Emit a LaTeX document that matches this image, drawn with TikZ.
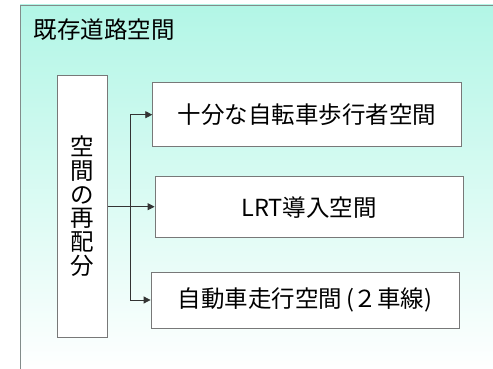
\documentclass[tikz,border=0pt]{standalone}
\usepackage{fontspec}
\setmainfont{Noto Sans CJK JP}
\usetikzlibrary{arrows.meta}
\definecolor{bgtop}{RGB}{178,246,230}
\definecolor{frame}{RGB}{130,140,138}
\definecolor{boxline}{RGB}{120,120,120}
\tikzset{
  box/.style={draw=boxline, line width=0.8pt, fill=white, inner sep=0pt},
  lbl/.style={font=\fontsize{23.5}{26}\selectfont, text=black},
  conn/.style={draw=black!80, line width=0.8pt},
  arr/.style={conn, -{Triangle[length=7pt,width=7pt]}}
}
\begin{document}
\begin{tikzpicture}[x=1pt,y=-1pt]
\useasboundingbox (0,0) rectangle (493,369);
\shade[top color=bgtop, bottom color=white] (20,5) rectangle (495,372);
\draw[frame, line width=0.8pt] (20,372) -- (20,5) -- (495,5);
\node[lbl, anchor=west] (title) at (30,30) {既存道路空間};
\node[box, minimum width=50pt, minimum height=262pt] (left) at (82.7,206) {};
\node[lbl, align=center, font=\fontsize{23.5}{23.7}\selectfont] (ltext) at (82.7,206) {空\\間\\の\\再\\配\\分};
\node[box, minimum width=309pt, minimum height=64pt, lbl] (b1) at (307.2,114.7) {十分な自転車歩行者空間};
\node[box, minimum width=308pt, minimum height=61pt, lbl] (b2) at (309,207.2) {LRT導入空間};
\node[box, minimum width=308pt, minimum height=56pt, lbl] (b3) at (305,300) {自動車走行空間\,(２車線)};
\coordinate (j) at (130,206.7);
\draw[conn] (left.east |- j) -- (j);
\draw[arr] (j |- b1.west) -- (b1.west);
\draw[arr] (j) -- (j -| b2.west);
\draw[arr] (j |- b3.west) -- (b3.west);
\draw[conn] (j |- b1.west) -- (j |- b3.west);
\end{tikzpicture}
\end{document}
